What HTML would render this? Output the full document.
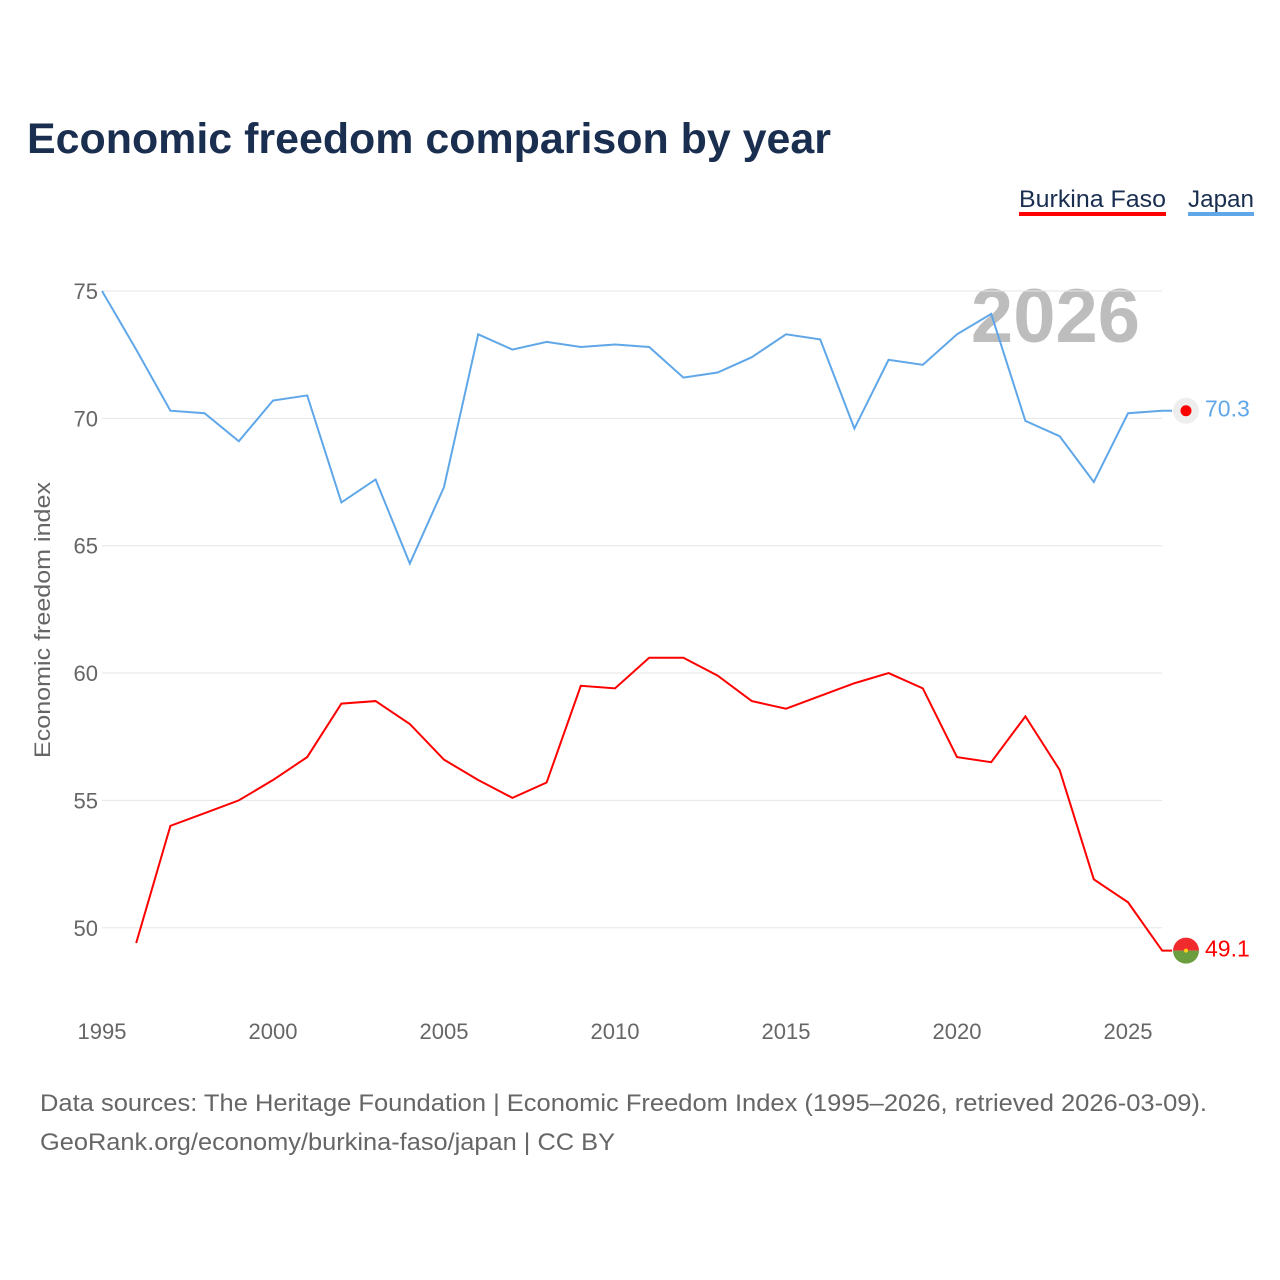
<!DOCTYPE html>
<html><head><meta charset="utf-8"><style>
body{margin:0;background:#fff;font-family:"Liberation Sans",sans-serif}
#wrap{position:relative;width:1280px;height:1280px}
</style></head><body><div id="wrap">
<svg id="chart" width="1280" height="1280" style="position:absolute;left:0;top:0">
<text x="27" y="153" font-size="43" font-weight="bold" fill="#1a2e50" textLength="804" lengthAdjust="spacingAndGlyphs">Economic freedom comparison by year</text>
<g><text x="1019" y="207" font-size="24" fill="#1a2e50" textLength="147" lengthAdjust="spacingAndGlyphs">Burkina Faso</text><rect x="1019" y="212" width="147" height="4" fill="#ff0000"/></g>
<g><text x="1188" y="207" font-size="24" fill="#1a2e50" textLength="66" lengthAdjust="spacingAndGlyphs">Japan</text><rect x="1188" y="212" width="66" height="4" fill="#5fa7e8"/></g>
<text x="1140" y="342" font-size="76" font-weight="bold" fill="#bdbdbd" text-anchor="end">2026</text>
<text transform="translate(50,620) rotate(-90)" font-size="22" fill="#666" text-anchor="middle" textLength="276" lengthAdjust="spacingAndGlyphs">Economic freedom index</text>
<g id="grid"></g><g id="xt"></g><g id="lines"></g>
<text x="40" y="1111" font-size="24" fill="#666" textLength="1167" lengthAdjust="spacingAndGlyphs">Data sources: The Heritage Foundation | Economic Freedom Index (1995–2026, retrieved 2026-03-09).</text>
<text x="40" y="1150" font-size="24" fill="#666" textLength="575" lengthAdjust="spacingAndGlyphs">GeoRank.org/economy/burkina-faso/japan | CC BY</text>
</svg></div>
<script>
const years=[1995,1996,1997,1998,1999,2000,2001,2002,2003,2004,2005,2006,2007,2008,2009,2010,2011,2012,2013,2014,2015,2016,2017,2018,2019,2020,2021,2022,2023,2024,2025,2026];
const japan=[75.0,72.7,70.3,70.2,69.1,70.7,70.9,66.7,67.6,64.3,67.3,73.3,72.7,73.0,72.8,72.9,72.8,71.6,71.8,72.4,73.3,73.1,69.6,72.3,72.1,73.3,74.1,69.9,69.3,67.5,70.2,70.3];
const burkina=[null,49.4,54.0,54.5,55.0,55.8,56.7,58.8,58.9,58.0,56.6,55.8,55.1,55.7,59.5,59.4,60.6,60.6,59.9,58.9,58.6,59.1,59.6,60.0,59.4,56.7,56.5,58.3,56.2,51.9,51.0,49.1];
const yTicks=[50,55,60,65,70,75];
const xTicks=[1995,2000,2005,2010,2015,2020,2025];
const NS="http://www.w3.org/2000/svg";
const xs=y=>102+(y-1995)*34.2, ys=v=>291+(75-v)*25.47;
function mk(t,a,p){const e=document.createElementNS(NS,t);for(const k in a)e.setAttribute(k,a[k]);p.appendChild(e);return e;}
const grid=document.getElementById('grid');
yTicks.forEach(v=>{
const l=mk('line',{x1:102,x2:1162,y1:ys(v),y2:ys(v),stroke:'#e6e6e6','stroke-width':1},grid);


const t=mk('text',{x:98,y:ys(v)+8,'font-size':22,fill:'#666','text-anchor':'end'},grid);t.textContent=v;


});
const xt=document.getElementById('xt');
xTicks.forEach(y=>{
const t=mk('text',{x:xs(y),y:1039,'font-size':22,fill:'#666','text-anchor':'middle'},xt);t.textContent=y;


});
const lines=document.getElementById('lines');
function series(vals,color,name){
let d='';vals.forEach((v,i)=>{if(v==null)return;d+=(d?'L':'M')+xs(years[i])+' '+ys(v);});
const last=vals[vals.length-1];d+='L1172 '+ys(last);
const p=mk('path',{d:d,fill:'none',stroke:color,'stroke-width':2},lines);


const t=mk('text',{x:1205,y:ys(last)+6,'font-size':23,fill:color},lines);t.textContent=last.toFixed(1);


return ys(last);
}
const jy=series(japan,'#5fa7e8','japan');
const by=series(burkina,'#ff0000','burkina');
const jm=mk('g',{},lines);


mk('circle',{cx:1186,cy:jy,r:13,fill:'#eeeeee'},jm);mk('circle',{cx:1186,cy:jy,r:5.5,fill:'#ff0000'},jm);
const bm=mk('g',{},lines);


mk('path',{d:`M1173 ${by}A13 13 0 0 1 1199 ${by}Z`,fill:'#ef2b2d'},bm);
mk('path',{d:`M1173 ${by}A13 13 0 0 0 1199 ${by}Z`,fill:'#6a9e3f'},bm);
mk('circle',{cx:1186,cy:by,r:2,fill:'#fcd116'},bm);
</script></body></html>
